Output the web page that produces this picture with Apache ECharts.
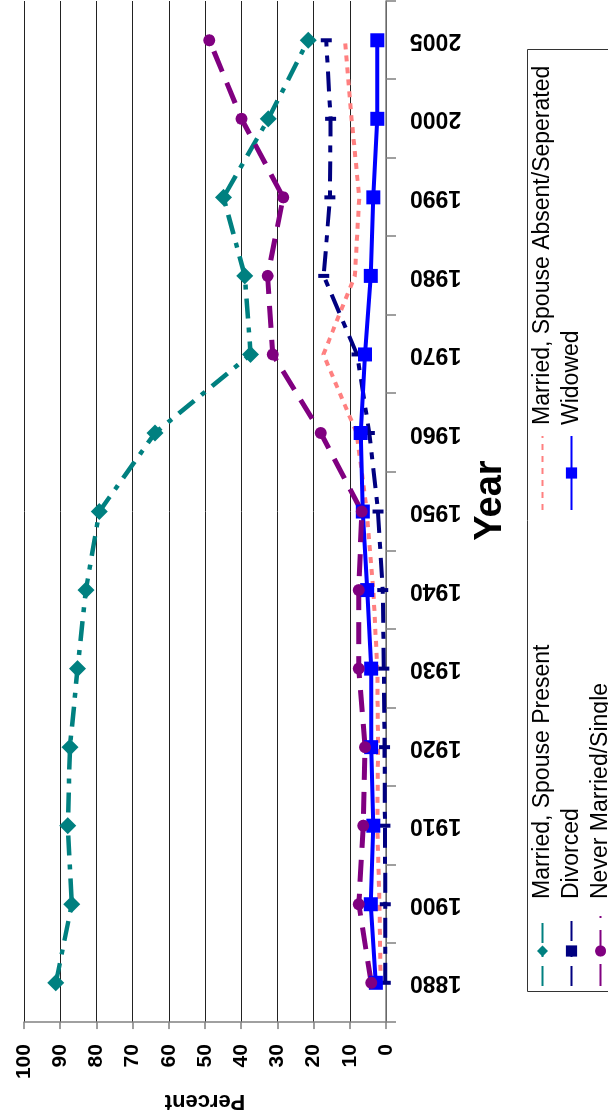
<!DOCTYPE html>
<html>
<head>
<meta charset="utf-8">
<script src="https://cdn.jsdelivr.net/npm/echarts@6/dist/echarts.min.js"></script>
<style>
html,body{margin:0;padding:0;width:608px;height:1120px;overflow:hidden;background:#fff;}
#chart{position:absolute;left:0;top:0;width:1120px;height:608px;transform-origin:0 0;transform:translateY(1120px) rotate(-90deg);}
</style>
</head>
<body>
<div id="chart"></div>
<script>
const years = ['1880','1900','1910','1920','1930','1940','1950','1960','1970','1980','1990','2000','2005'];
const percentTicks = [0,10,20,30,40,50,60,70,80,90,100];
const marriedPresent = [91.2, 86.8, 87.9, 87.3, 85.2, 82.9, 79.2, 63.8, 37.4, 39.0, 44.9, 32.5, 21.5];
const marriedAbsent  = [1.5, 1.8, 2.4, 2.2, 2.4, 3.5, 5.3, 8.1, 17.3, 8.6, 7.4, 9.5, 11.3];
const divorced       = [0.2, 0.2, 0.3, 0.4, 0.6, 0.9, 2.2, 4.6, 8.0, 17.2, 15.5, 15.3, 16.5];
const widowed        = [2.8, 4.2, 3.5, 4.1, 4.1, 5.2, 6.4, 7.0, 5.8, 4.2, 3.5, 2.4, 2.4];
const neverMarried   = [4.1, 7.5, 6.3, 5.8, 7.5, 7.5, 6.7, 18.0, 31.3, 32.7, 28.4, 39.9, 48.8];

const FONT = "'Liberation Sans', Arial, sans-serif";
const chart = echarts.init(document.getElementById('chart'), null, {width:1120, height:608});
chart.setOption({
  animation: false,
  backgroundColor: '#fff',
  textStyle: {fontFamily: FONT},
  grid: {left: 96, right: 1, top: 24, bottom: 222, containLabel: false},
  xAxis: {
    type: 'category', data: years, boundaryGap: true,
    name: 'Year', nameLocation: 'middle', nameGap: 86,
    nameTextStyle: {fontSize: 38, fontWeight: 'bold', color: '#000', fontFamily: FONT, padding: [0,0,0,22]},
    axisLine: {lineStyle: {color: '#808080', width: 1.5}},
    axisTick: {show: true, length: 10, lineStyle: {color: '#808080', width: 1.5}},
    axisLabel: {rotate: 90, margin: 24, fontSize: 23, fontWeight: 'bold', color: '#000', fontFamily: FONT},
    splitLine: {show: false}
  },
  yAxis: {
    type: 'value', min: percentTicks[0], max: percentTicks[percentTicks.length-1], interval: 10,
    name: 'Percent', nameLocation: 'middle', nameGap: 60, nameRotate: 90,
    nameTextStyle: {fontSize: 22, fontWeight: 'bold', color: '#000', fontFamily: FONT},
    axisLine: {show: true, lineStyle: {color: '#808080', width: 1.5}},
    axisTick: {show: true, length: 7, lineStyle: {color: '#808080', width: 1.5}},
    axisLabel: {margin: 22, fontSize: 21, fontWeight: 'bold', color: '#000', fontFamily: FONT},
    splitLine: {show: true, lineStyle: {color: '#222', width: 1}}
  },
  graphic: [{
    type: 'rect', left: 128, top: 527, silent: true, z: 0,
    shape: {width: 942, height: 120},
    style: {fill: 'transparent', stroke: '#333', lineWidth: 1}
  }],
  legend: [{
    orient: 'vertical', left: 133, top: 531, height: 120, padding: 0, itemGap: 6,
    itemWidth: 70, itemHeight: 14,
    textStyle: {fontSize: 23, color: '#000', fontFamily: FONT, lineHeight: 20, padding: [0,0,0,12]},
    data: ['Married, Spouse Present', 'Divorced', 'Never Married/Single']
  }, {
    orient: 'vertical', left: 609, top: 531, height: 120, padding: 0, itemGap: 6,
    itemWidth: 74, itemHeight: 14,
    textStyle: {fontSize: 23, color: '#000', fontFamily: FONT, lineHeight: 20, padding: [0,0,0,6]},
    data: [{name: 'Married, Spouse Absent/Seperated', itemStyle: {opacity: 0}}, 'Widowed']
  }],
  series: [
    {name: 'Married, Spouse Present', type: 'line', data: marriedPresent,
     symbol: 'diamond', symbolSize: 17, color: '#008080',
     lineStyle: {color: '#008080', width: 4.5, type: [20, 9, 5, 9]}, itemStyle: {color: '#008080'}},
    {name: 'Married, Spouse Absent/Seperated', type: 'line', data: marriedAbsent,
     symbol: 'none', color: '#FF8080',
     lineStyle: {color: '#FF8080', width: 4, type: [6, 6]}, itemStyle: {color: '#FF8080'}},
    {name: 'Divorced', type: 'line', data: divorced,
     symbol: 'rect', symbolSize: [4, 11], color: '#000080',
     lineStyle: {color: '#000080', width: 4, type: [20, 9, 7, 9]}, itemStyle: {color: '#000080'}},
    {name: 'Widowed', type: 'line', data: widowed,
     symbol: 'rect', symbolSize: 14, color: '#0000FF',
     lineStyle: {color: '#0000FF', width: 4, type: 'solid'}, itemStyle: {color: '#0000FF'}},
    {name: 'Never Married/Single', type: 'line', data: neverMarried,
     symbol: 'circle', symbolSize: 12, color: '#800080',
     lineStyle: {color: '#800080', width: 5, type: [22, 12]}, itemStyle: {color: '#800080'}}
  ]
});
</script>
</body>
</html>
